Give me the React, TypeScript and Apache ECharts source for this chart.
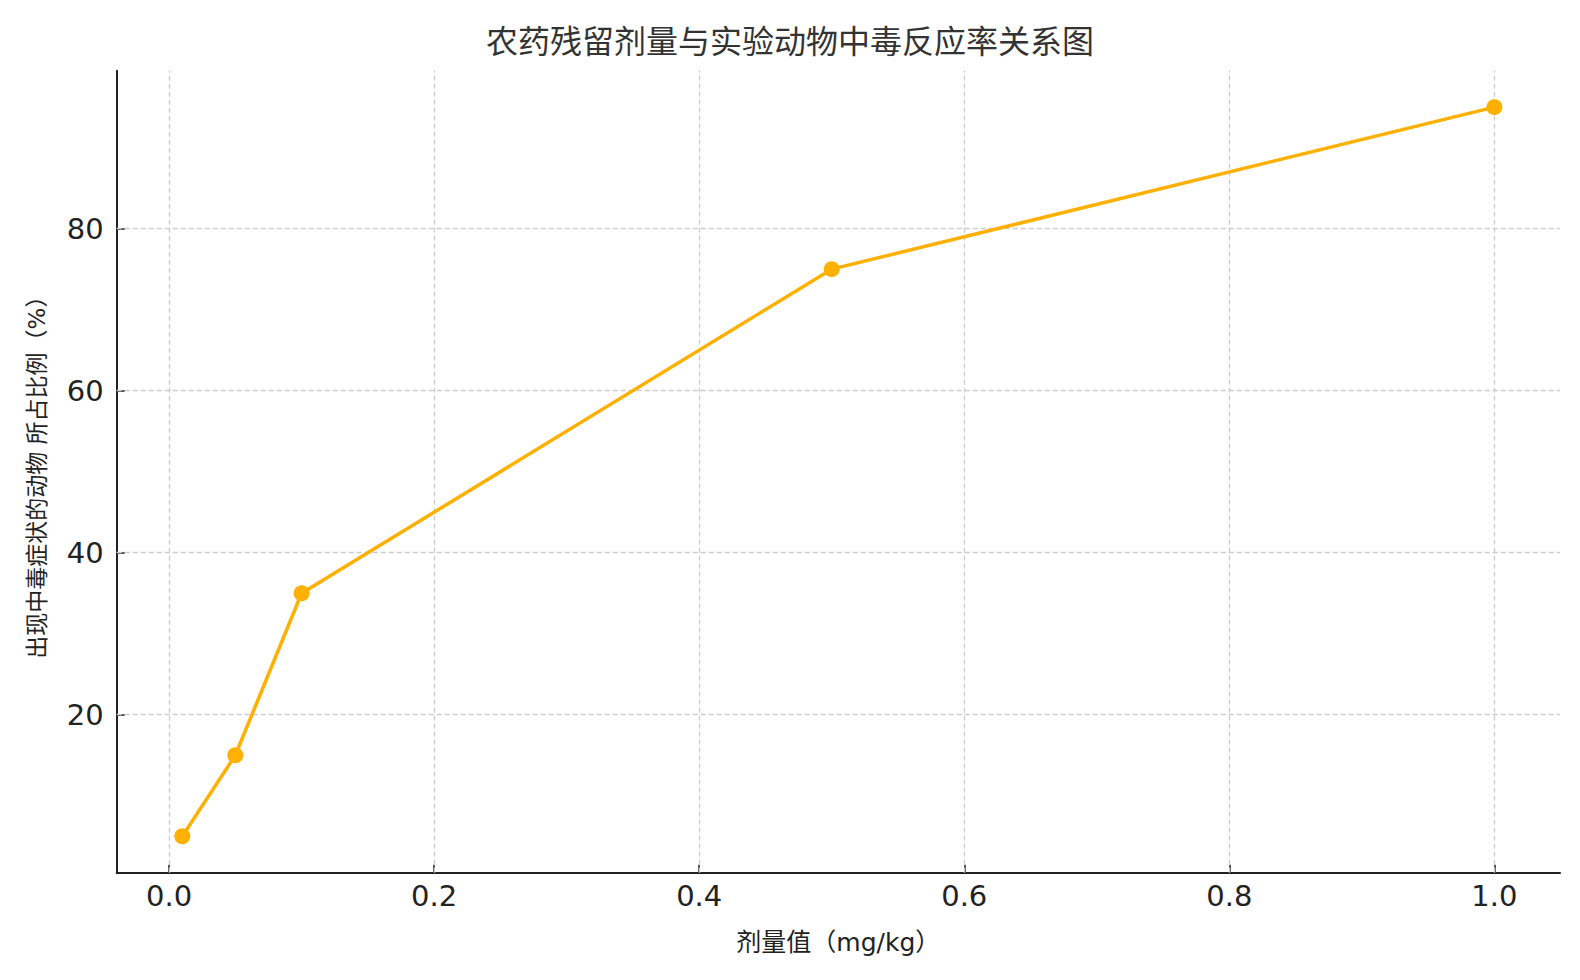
import React, { useEffect, useRef } from "react";
import * as echarts from "echarts";

const titleText = "农药残留剂量与实验动物中毒反应率关系图";
const xAxisName = "剂量值（mg/kg）";
const yAxisName = "出现中毒症状的动物 所占比例（%）";

const doses = [0.01, 0.05, 0.1, 0.5, 1.0];
const responseRates = [5, 15, 35, 75, 95];

const xTicks = [0, 0.2, 0.4, 0.6, 0.8, 1.0];
const yTicks = [20, 40, 60, 80];

const xMin = -0.0395;
const xMax = 1.0495;
const yMin = 0.5;
const yMax = 99.5;

const FONT = "'DejaVu Sans', 'Noto Sans CJK SC', sans-serif";
const TEXT = "#222222";
const LINE = "#FFB000";
const GRIDC = "#cccccc";

export default function App() {
  const ref = useRef<HTMLDivElement>(null);
  useEffect(() => {
    if (!ref.current) return;
    const chart = echarts.init(ref.current, null, { renderer: "svg" });
    const option: any = {
      animation: false,
      backgroundColor: "#ffffff",
      title: {
        text: titleText,
        left: "center",
        top: 17,
        textStyle: {
          fontFamily: FONT,
          fontSize: 32,
          fontWeight: "normal",
          color: "#333333",
          lineHeight: 40,
        },
      },
      grid: {
        left: 116.7,
        right: 20,
        top: 70.7,
        bottom: 107.3,
        containLabel: false,
        outerBoundsMode: "none",
      },
      xAxis: {
        type: "value",
        min: xMin,
        max: xMax,
        name: xAxisName,
        nameLocation: "middle",
        nameGap: 57,
        nameTextStyle: { fontFamily: FONT, fontSize: 25, color: TEXT },
        axisLine: { show: true, onZero: false, lineStyle: { color: TEXT, width: 2 } },
        axisTick: {
          show: true,
          inside: true,
          length: 8,
          customValues: xTicks,
          lineStyle: { color: TEXT, width: 1.5 },
        },
        axisLabel: {
          show: true,
          customValues: xTicks,
          margin: 9,
          fontFamily: FONT,
          fontSize: 29,
          color: TEXT,
          formatter: (v: number) => v.toFixed(1),
        },
        splitLine: { show: false },
      },
      yAxis: {
        type: "value",
        min: yMin,
        max: yMax,
        name: yAxisName,
        nameLocation: "middle",
        nameRotate: 90,
        nameGap: 68,
        nameTextStyle: { fontFamily: FONT, fontSize: 23, color: TEXT },
        axisLine: { show: true, onZero: false, lineStyle: { color: TEXT, width: 2 } },
        axisTick: {
          show: true,
          inside: true,
          length: 8,
          customValues: yTicks,
          lineStyle: { color: TEXT, width: 1.5 },
        },
        axisLabel: {
          show: true,
          customValues: yTicks,
          margin: 13,
          fontFamily: FONT,
          fontSize: 29,
          color: TEXT,
          formatter: (v: number) => String(Math.round(v)),
        },
        splitLine: { show: false },
      },
      series: [
        {
          type: "scatter",
          data: [],
          z: 1,
          silent: true,
          markLine: {
            silent: true,
            symbol: "none",
            label: { show: false },
            lineStyle: { color: GRIDC, type: [5, 3], width: 1.3 },
            data: [
              ...xTicks.map((v) => ({ xAxis: v })),
              ...yTicks.map((v) => ({ yAxis: v })),
            ],
          },
        },
        {
          type: "line",
          z: 5,
          data: doses.map((d, i) => [d, responseRates[i]]),
          symbol: "circle",
          symbolSize: 16,
          showSymbol: true,
          lineStyle: { color: LINE, width: 3.5 },
          itemStyle: { color: LINE },
        },
      ],
    };
    chart.setOption(option);
    return () => chart.dispose();
  }, []);
  return (
    <div
      ref={ref}
      style={{ position: "fixed", left: 0, top: 0, width: 1580, height: 980 }}
    />
  );
}
